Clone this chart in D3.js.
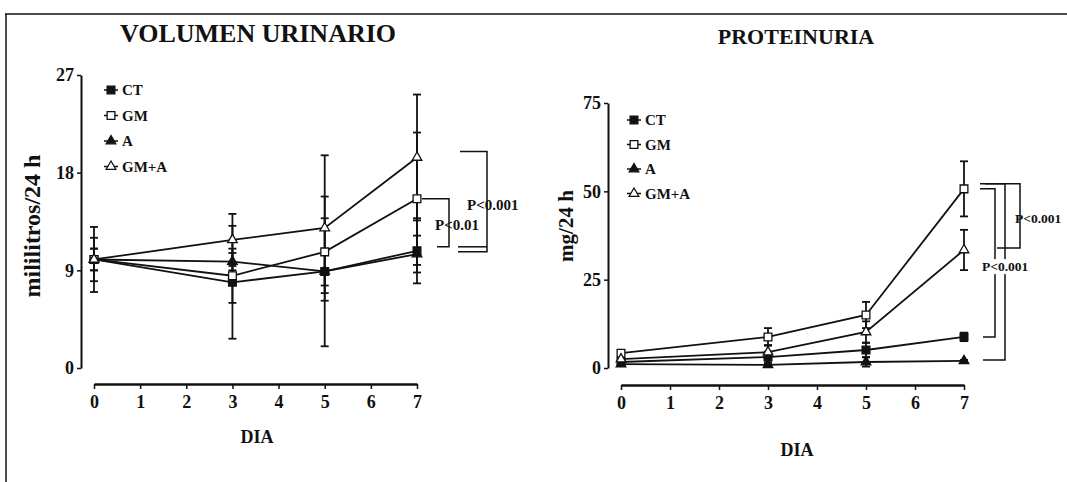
<!DOCTYPE html>
<html><head><meta charset="utf-8">
<script src="https://cdn.jsdelivr.net/npm/d3@7"></script>
<style>
body{margin:0;background:#fff;}
svg{display:block;}
text{font-family:"Liberation Serif","Times New Roman",serif;font-weight:bold;fill:#111;}
</style></head>
<body><svg id="c" width="1067" height="482"></svg>
<script>
// ---------- data ----------
const days = [0, 3, 5, 7];
const xTicks = [0, 1, 2, 3, 4, 5, 6, 7];
const seriesNames = ["CT", "GM", "A", "GM+A"];

// Volumen urinario (ml/24 h)
const volTicks = [0, 9, 18, 27];
const volCT   = [10, 7.9, 8.9, 10.8];
const volGM   = [10, 8.5, 10.7, 15.6];
const volA    = [10, 9.8, 8.9, 10.5];
const volGMA  = [10, 11.8, 12.9, 19.4];
const volErrCT  = [3, 5.2, 6.9, 3.0];
const volErrGM  = [2, 2.5, 3.1, 6.1];
const volErrA   = [1, 0.8, 2.0, 1.7];
const volErrGMA = [1, 2.4, 6.7, 5.8];

// Proteinuria (mg/24 h)
const protTicks = [0, 25, 50, 75];
const protCT   = [1.7, 3.1, 5.1, 8.8];
const protGM   = [4.2, 8.8, 15.0, 50.7];
const protA    = [1.1, 0.9, 1.7, 2.0];
const protGMA  = [2.5, 4.5, 10.2, 33.4];
const protErrCT  = [0.8, 1.5, 2.0, 1.2];
const protErrGM  = [0.5, 2.5, 3.7, 7.8];
const protErrA   = [0.3, 0.5, 1.3, 0.3];
const protErrGMA = [0.5, 2.0, 3.0, 5.7];

// ---------- drawing ----------
const svg = d3.select("#c");
const ink = "#111";

// scanned frame
svg.append("line").attr("x1",5).attr("x2",1067).attr("y1",14).attr("y2",14).attr("stroke",ink).attr("stroke-width",1.5);
svg.append("line").attr("x1",6).attr("x2",6).attr("y1",14).attr("y2",482).attr("stroke",ink).attr("stroke-width",1.5);

const symFor = {
  "CT":   {type: d3.symbolSquare,   fill: ink,    size: 60},
  "GM":   {type: d3.symbolSquare,   fill: "#fff", size: 60},
  "A":    {type: d3.symbolTriangle, fill: ink,    size: 40},
  "GM+A": {type: d3.symbolTriangle, fill: "#fff", size: 40}
};

function drawMarker(g, name, cx, cy) {
  const s = symFor[name];
  g.append("path")
    .attr("d", d3.symbol().type(s.type).size(s.size)())
    .attr("transform", `translate(${cx},${cy})`)
    .attr("fill", s.fill).attr("stroke", ink).attr("stroke-width", 1.3);
}

function styleTicks(sel) {
  sel.selectAll(".tick text")
    .style("font-size", "18px").style("font-family", "'Liberation Serif', serif")
    .style("font-weight", "bold").attr("fill", ink);
}

function panel(opt) {
  const g = svg.append("g");
  const x = d3.scaleLinear().domain([0, 7]).range(opt.xRange);
  const y = d3.scaleLinear().domain([0, opt.yMax]).range(opt.yRange);

  // y axis
  const ya = g.append("g").attr("transform", `translate(${opt.yAxisX},0)`)
    .call(d3.axisLeft(y).tickValues(opt.yTicks).tickFormat(d3.format("d")).tickSize(4).tickSizeOuter(0).tickPadding(3));
  ya.select(".domain").attr("stroke", ink).attr("stroke-width", 2);
  ya.selectAll(".tick line").attr("stroke", ink).attr("stroke-width", 1.5);
  styleTicks(ya);

  // x axis
  const xa = g.append("g").attr("transform", `translate(0,${opt.xAxisY})`)
    .call(d3.axisBottom(x).tickValues(xTicks).tickFormat(d3.format("d")).tickSize(5).tickSizeOuter(0).tickPadding(6));
  xa.select(".domain").attr("stroke", ink).attr("stroke-width", 2.5);
  xa.selectAll(".tick line").attr("stroke", ink).attr("stroke-width", 1.5);
  styleTicks(xa);

  // titles & labels
  g.append("text").attr("x", opt.titleX).attr("y", opt.titleY).attr("text-anchor", "middle")
    .attr("font-size", opt.titleSize).text(opt.title);
  g.append("text").attr("x", opt.diaX).attr("y", opt.diaY).attr("text-anchor", "middle")
    .attr("font-size", 18).text("DIA");
  g.append("text").attr("transform", `translate(${opt.ylabX},${opt.ylabY}) rotate(-90)`)
    .attr("text-anchor", "middle").attr("font-size", opt.ylabSize).text(opt.ylab);

  // series
  const line = d3.line().x((d, i) => x(days[i])).y(d => y(d));
  opt.series.forEach(s => {
    s.values.forEach((v, i) => {
      const e = s.err[i];
      const cx = x(days[i]);
      const top = y(v + e), bot = y(Math.max(0, v - e));
      g.append("line").attr("x1", cx).attr("x2", cx).attr("y1", top).attr("y2", bot)
        .attr("stroke", ink).attr("stroke-width", 1.8);
      [top, bot].forEach(yy => g.append("line").attr("x1", cx - 4).attr("x2", cx + 4)
        .attr("y1", yy).attr("y2", yy).attr("stroke", ink).attr("stroke-width", 1.8));
    });
  });
  opt.series.forEach(s => {
    g.append("path").datum(s.values).attr("d", line).attr("fill", "none")
      .attr("stroke", ink).attr("stroke-width", 1.8);
  });
  opt.series.forEach(s => {
    s.values.forEach((v, i) => drawMarker(g, s.name, x(days[i]), y(v)));
  });

  // legend
  opt.series.forEach((s, i) => {
    const ly = opt.legY + i * opt.legStep;
    g.append("line").attr("x1", opt.legX).attr("x2", opt.legX + 14).attr("y1", ly).attr("y2", ly)
      .attr("stroke", ink).attr("stroke-width", 1.5);
    drawMarker(g, s.name, opt.legX + 7, ly);
    g.append("text").attr("x", opt.legX + 18).attr("y", ly + 5).attr("font-size", 15).text(s.name);
  });
  return {g, x, y};
}

const left = panel({
  xRange: [94, 417], yRange: [368, 75], yMax: 27, yTicks: volTicks,
  yAxisX: 81, xAxisY: 384,
  title: "VOLUMEN URINARIO", titleX: 258, titleY: 42, titleSize: 26,
  diaX: 257, diaY: 443, ylab: "mililitros/24 h", ylabX: 40, ylabY: 226, ylabSize: 24,
  legX: 104, legY: 90, legStep: 25.5,
  series: [
    {name: "CT", values: volCT, err: volErrCT},
    {name: "GM", values: volGM, err: volErrGM},
    {name: "A", values: volA, err: volErrA},
    {name: "GM+A", values: volGMA, err: volErrGMA}
  ]
});

const right = panel({
  xRange: [621, 964], yRange: [368, 103], yMax: 75, yTicks: protTicks,
  yAxisX: 608, xAxisY: 385,
  title: "PROTEINURIA", titleX: 796, titleY: 44, titleSize: 22,
  diaX: 797, diaY: 456, ylab: "mg/24 h", ylabX: 573, ylabY: 226, ylabSize: 21,
  legX: 627, legY: 120, legStep: 24.5,
  series: [
    {name: "CT", values: protCT, err: protErrCT},
    {name: "GM", values: protGM, err: protErrGM},
    {name: "A", values: protA, err: protErrA},
    {name: "GM+A", values: protGMA, err: protErrGMA}
  ]
});

// ---------- significance brackets ----------
function bracket(g, pts) {
  g.append("path").attr("d", d3.line()(pts)).attr("fill", "none")
    .attr("stroke", ink).attr("stroke-width", 1.5);
}
function pLabel(g, x, y, txt, size, bg) {
  const t = g.append("text").attr("x", x).attr("y", y).attr("font-size", size).attr("dominant-baseline", "middle").text(txt);
  if (bg) {
    const b = t.node().getBBox();
    g.insert("rect", () => t.node()).attr("x", b.x - 1).attr("y", b.y).attr("width", b.width + 2).attr("height", b.height).attr("fill", "#fff");
  }
}
{
  const {g, x, y} = left;
  const x7 = x(7);
  // GM vs CT
  bracket(g, [[x7 + 5, y(volGM[3])], [x7 + 32, y(volGM[3])], [x7 + 32, y(volCT[3]) - 4], [x7 + 20, y(volCT[3]) - 4]]);
  pLabel(g, x7 + 18, (y(volGM[3]) + y(volCT[3])) / 2 + 2, "P<0.01", 15, false);
  // GM+A vs CT / A
  bracket(g, [[x7 + 43, y(volGMA[3]) - 6], [x7 + 70, y(volGMA[3]) - 6], [x7 + 70, y(volCT[3]) + 1], [x7 + 41, y(volCT[3]) + 1]]);
  bracket(g, [[x7 + 41, y(volCT[3]) - 4], [x7 + 70, y(volCT[3]) - 4]]);
  pLabel(g, x7 + 50, (y(volGMA[3]) + y(volCT[3])) / 2 + 2, "P<0.001", 15, false);
}
{
  const {g, x, y} = right;
  const x7 = x(7);
  // GM vs GM+A
  bracket(g, [[x7 + 21, y(protGM[3]) - 5], [x7 + 56, y(protGM[3]) - 5], [x7 + 56, y(protGMA[3]) - 2], [x7 + 33, y(protGMA[3]) - 2]]);
  pLabel(g, x7 + 51, (y(protGM[3]) + y(protGMA[3])) / 2, "P<0.001", 13.5, false);
  // GM vs CT and GM vs A
  bracket(g, [[x7 + 16, y(protGM[3])], [x7 + 31, y(protGM[3])], [x7 + 31, y(protCT[3])], [x7 + 19, y(protCT[3])]]);
  bracket(g, [[x7 + 16, y(protGM[3]) - 5], [x7 + 41, y(protGM[3]) - 5], [x7 + 41, y(protA[3]) - 1], [x7 + 19, y(protA[3]) - 1]]);
  pLabel(g, x7 + 18, 268, "P<0.001", 13.5, true);
}
</script></body></html>
